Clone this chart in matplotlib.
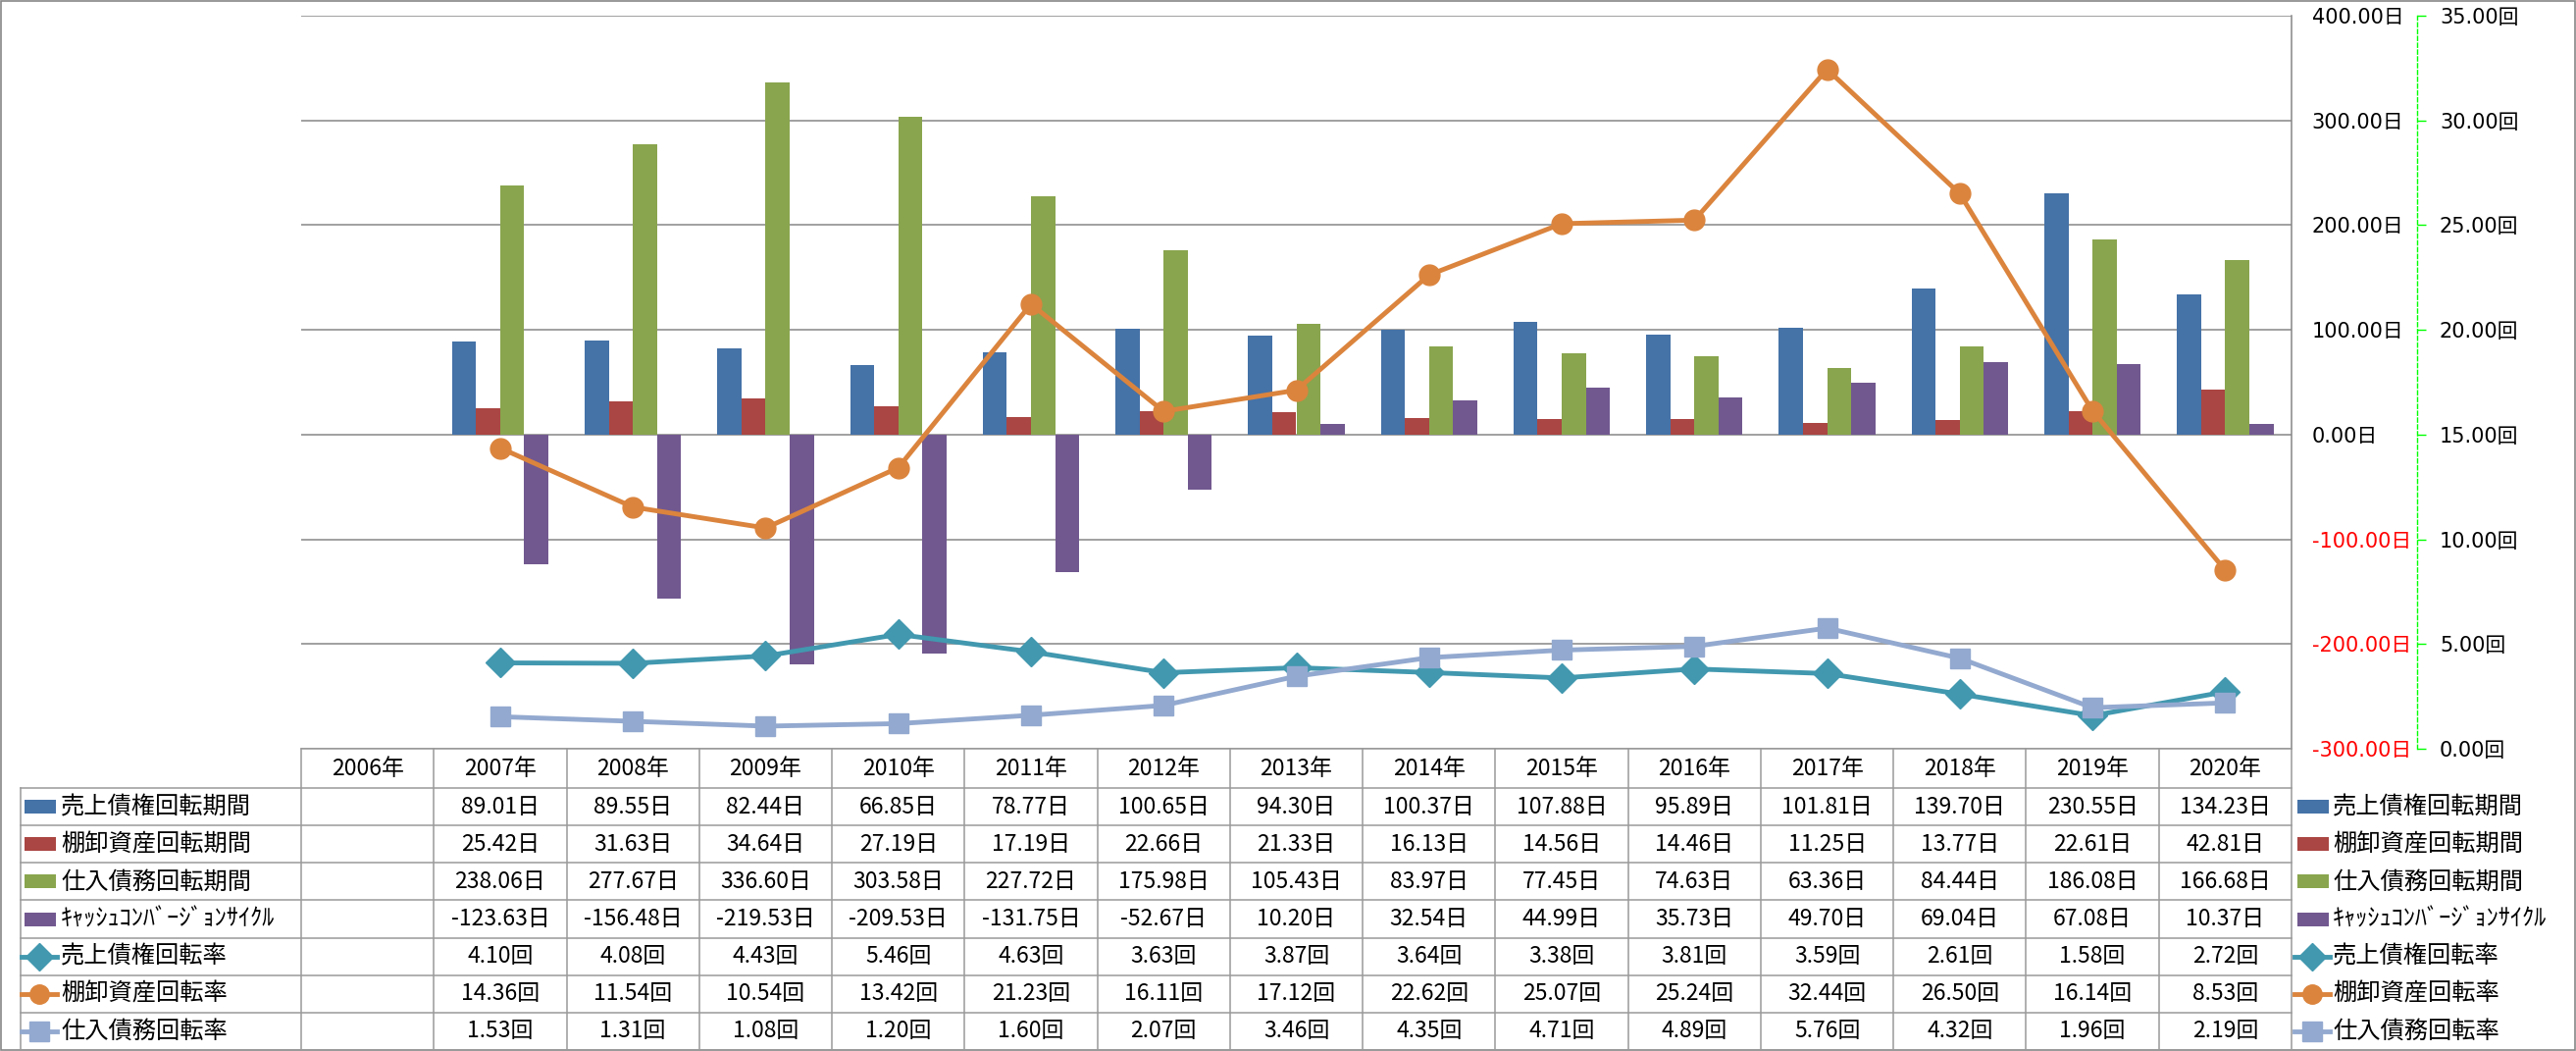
import numpy as np
import matplotlib.pyplot as plt
from matplotlib.lines import Line2D
from matplotlib.patches import Rectangle
from matplotlib.transforms import blended_transform_factory

plt.rcParams['font.family'] = ['Noto Sans CJK JP', 'DejaVu Sans']

nan = np.nan
years = ['2006年', '2007年', '2008年', '2009年', '2010年', '2011年', '2012年', '2013年',
         '2014年', '2015年', '2016年', '2017年', '2018年', '2019年', '2020年']

# days (bars, left scale)
receivable_days = [nan, 89.01, 89.55, 82.44, 66.85, 78.77, 100.65, 94.30, 100.37, 107.88,
                   95.89, 101.81, 139.70, 230.55, 134.23]
inventory_days = [nan, 25.42, 31.63, 34.64, 27.19, 17.19, 22.66, 21.33, 16.13, 14.56,
                  14.46, 11.25, 13.77, 22.61, 42.81]
payable_days = [nan, 238.06, 277.67, 336.60, 303.58, 227.72, 175.98, 105.43, 83.97, 77.45,
                74.63, 63.36, 84.44, 186.08, 166.68]
ccc_days = [nan, -123.63, -156.48, -219.53, -209.53, -131.75, -52.67, 10.20, 32.54, 44.99,
            35.73, 49.70, 69.04, 67.08, 10.37]

# turnover (lines, right scale)
receivable_turn = [nan, 4.10, 4.08, 4.43, 5.46, 4.63, 3.63, 3.87, 3.64, 3.38, 3.81, 3.59,
                   2.61, 1.58, 2.72]
inventory_turn = [nan, 14.36, 11.54, 10.54, 13.42, 21.23, 16.11, 17.12, 22.62, 25.07, 25.24,
                  32.44, 26.50, 16.14, 8.53]
payable_turn = [nan, 1.53, 1.31, 1.08, 1.20, 1.60, 2.07, 3.46, 4.35, 4.71, 4.89, 5.76,
                4.32, 1.96, 2.19]

bar_names = ['売上債権回転期間', '棚卸資産回転期間', '仕入債務回転期間', 'ｷｬｯｼｭｺﾝﾊﾞｰｼﾞｮﾝｻｲｸﾙ']
bar_series = [receivable_days, inventory_days, payable_days, ccc_days]
bar_colors = ['#4572A7', '#AA4643', '#89A54E', '#71588F']

line_names = ['売上債権回転率', '棚卸資産回転率', '仕入債務回転率']
line_series = [receivable_turn, inventory_turn, payable_turn]
line_colors = ['#4198AF', '#DB843D', '#93A9CF']
line_markers = ['D', 'o', 's']

day_ticks = [-300, -200, -100, 0, 100, 200, 300, 400]
turn_ticks = [0, 5, 10, 15, 20, 25, 30, 35]

W, H = 2626, 1071
GRAY = '#868686'
TGRAY = '#9a9a9a'
TICK_FONT = ['DejaVu Sans', 'Noto Sans CJK JP']


def fx(px):
    return px / W


def fy(py):
    return 1 - py / H


fig = plt.figure(figsize=(W / 100, H / 100), dpi=100)
fig.add_artist(Rectangle((0.6 / W, 0.6 / H), 1 - 1.2 / W, 1 - 1.2 / H, transform=fig.transFigure,
                         fill=False, ec=GRAY, lw=1.2))

ax = fig.add_axes([fx(307), fy(763), fx(2336) - fx(307), fy(16) - fy(763)])
x = np.arange(len(years))
bw = 1 / 5.5
for k, (vals, c) in enumerate(zip(bar_series, bar_colors)):
    ax.bar(x + (k - 1.5) * bw, vals, bw, color=c, zorder=2)

ax2 = ax.twinx()
for k, (vals, c, m) in enumerate(zip(line_series, line_colors, line_markers)):
    ax2.plot(x, vals, color=c, lw=3.5, marker=m, ms=15, mec=c, mfc=c, zorder=3)

# left (days) scale, drawn on the right side
ax.set_xlim(-0.5, len(years) - 0.5)
ax.set_ylim(-300, 400)
ax.set_xticks([])
ax.yaxis.tick_right()
ax.set_yticks(day_ticks)
ax.set_yticklabels([f'{v:.2f}日' for v in day_ticks], family=TICK_FONT, fontsize=15)
for t, v in zip(ax.get_yticklabels(), day_ticks):
    t.set_color('#FF0000' if v < 0 else 'black')
ax.tick_params(axis='y', length=0, pad=15)
ax.grid(axis='y', color=GRAY, lw=1.1)
ax.set_axisbelow(True)
for s in ['top', 'left', 'bottom']:
    ax.spines[s].set_visible(False)
ax.spines['right'].set_color(GRAY)
ax.spines['right'].set_linewidth(1.1)

# turnover scale
for s in ['top', 'left', 'bottom']:
    ax2.spines[s].set_visible(False)
ax2.spines['right'].set_position(('outward', 128 * 0.72))
ax2.spines['right'].set_color('#00FF00')
ax2.spines['right'].set_linestyle((0, (3, 2)))
ax2.spines['right'].set_linewidth(1.0)
ax2.set_ylim(0, 35)
ax2.set_yticks(turn_ticks)
ax2.set_yticklabels([f'{v:.2f}回' for v in turn_ticks], family=TICK_FONT, fontsize=15)
ax2.tick_params(axis='y', length=6.5, width=1, color='#00FF00', pad=10, labelsize=15)

# data table under the plot
trans = blended_transform_factory(ax.transData, fig.transFigure)
head_top, head_bot, bottom = 763, 803, 1070
row_h = (bottom - head_bot) / 7
row_edges = [head_bot + k * row_h for k in range(8)]

fig.add_artist(Line2D([-0.5, len(years) - 0.5], [fy(head_top)] * 2, transform=trans, color=TGRAY, lw=1.1))
for yy in row_edges:
    fig.add_artist(Line2D([fx(21), fx(2336)], [fy(yy)] * 2, transform=fig.transFigure, color=TGRAY, lw=1.1))
for i in range(len(years) + 1):
    fig.add_artist(Line2D([i - 0.5, i - 0.5], [fy(head_top), fy(bottom)], transform=trans, color=TGRAY, lw=1.1))
fig.add_artist(Line2D([fx(21)] * 2, [fy(head_bot), fy(bottom)], transform=fig.transFigure, color=TGRAY, lw=1.1))

for i, yr in enumerate(years):
    ax.text(i, fy((head_top + head_bot) / 2), yr, transform=trans, ha='center', va='center', fontsize=16.5)

rows = [(n, v, '日', c, None) for n, v, c in zip(bar_names, bar_series, bar_colors)] + \
       [(n, v, '回', c, m) for n, v, c, m in zip(line_names, line_series, line_colors, line_markers)]

for r, (name, vals, unit, c, m) in enumerate(rows):
    yc = fy((row_edges[r] + row_edges[r + 1]) / 2)
    for i, v in enumerate(vals):
        if not np.isnan(v):
            ax.text(i, yc, f'{v:.2f}{unit}', transform=trans, ha='center', va='center', fontsize=16.5)
    for lx, tx in [(25, 62), (2342, 2378)]:
        if m is None:
            fig.add_artist(Rectangle((fx(lx), yc - 7 / H), 32 / W, 14 / H, transform=fig.transFigure,
                                     color=c, lw=0))
        else:
            fig.add_artist(Line2D([fx(lx - 3), fx(lx + 33)], [yc, yc], transform=fig.transFigure,
                                  color=c, lw=3.5))
            fig.add_artist(Line2D([fx(lx + 15)], [yc], transform=fig.transFigure, color=c,
                                  marker=m, ms=14, mec=c, mfc=c))
        fig.text(fx(tx), yc, name, ha='left', va='center', fontsize=17.5)

fig.savefig('out.png', dpi=100)
